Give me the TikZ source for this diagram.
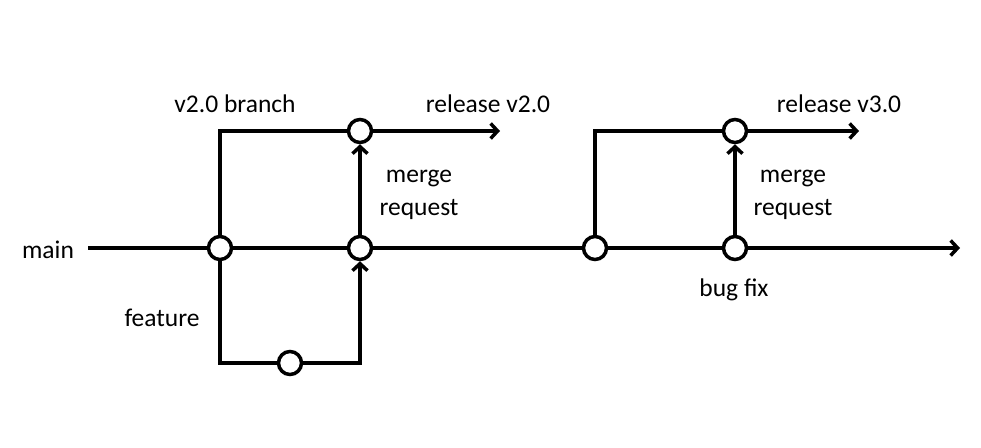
\documentclass[tikz,border=0pt]{standalone}
\usepackage{fontspec}
\setmainfont{Carlito}
\usetikzlibrary{
  arrows.meta,
  positioning,
}
\tikzstyle{commit} = [
  draw,
  circle,
  line width=3.5pt,
  minimum size=23pt,
  inner sep=0pt,
  fill=white,
]
\tikzstyle{branch} = [
  line width=3.5pt,
]
\tikzstyle{arrow} = [
  -{Straight Barb[length=7pt,width=15pt]},
  line width=3.5pt,
]
\tikzstyle{txt} = [
  font=\fontsize{25.5}{33}\selectfont,
  align=center,
  inner sep=0pt,
]

\begin{document}
\begin{tikzpicture}[x=1pt,y=-1pt]
        \useasboundingbox (0,0) rectangle (981,447);

        \node[commit]    (c1)    at (220,248)    {};
        \node[commit]    (c2)    at (360,248)    {};
        \node[commit]    (c3)    at (360,131)    {};
        \node[commit]    (c4)    at (290,363)    {};
        \node[commit]    (c5)    at (595,248)    {};
        \node[commit]    (c6)    at (735,131)    {};
        \node[commit]    (c7)    at (735,248)    {};

        \coordinate (start)  at (88,248);
        \coordinate (end)    at (960,248);
        \coordinate (rel2)   at (500,131);
        \coordinate (rel3)   at (859,131);

        \draw[branch] (start) -- (c1) -- (c2) -- (c5) -- (c7);
        \draw[arrow]  (c7) -- (end);
        \draw[branch] (c1) |- (c3);
        \draw[arrow]  (c3) -- (rel2);
        \draw[branch] (c1) |- (c4);
        \draw[arrow]  (c4) -| (c2);
        \draw[arrow]  (c2) -- (c3);
        \draw[branch] (c5) |- (c6);
        \draw[arrow]  (c6) -- (rel3);
        \draw[arrow]  (c7) -- (c6);

        \node[txt]    (lmain)    at (48,250)     {main};
        \node[txt]    (lv2)      at (235,104)    {v2.0 branch};
        \node[txt]    (lrel2)    at (488,104)    {release v2.0};
        \node[txt]    (lfeat)    at (162,318)    {feature};
        \node[txt]    (lmr1)     at (419,195)    {merge\\request};
        \node[txt]    (lrel3)    at (839,104)    {release v3.0};
        \node[txt]    (lmr2)     at (793,195)    {merge\\request};
        \node[txt]    (lbug)     at (734,290)    {bug fix};
    \end{tikzpicture}
\end{document}
